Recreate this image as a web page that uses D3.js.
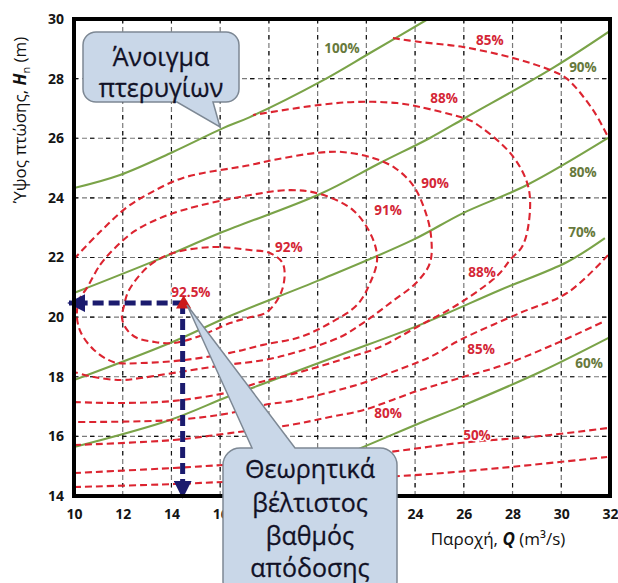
<!DOCTYPE html>
<html><head><meta charset="utf-8">
<script src="https://cdn.jsdelivr.net/npm/d3@7"></script>
<style>body{margin:0;background:#fff}</style>
</head><body><svg id="c" width="618" height="583"></svg>
<script>
// ---------- data (Q in m3/s, H in m) ----------
const xTicks = [10,12,14,16,18,20,22,24,26,28,30,32];
const yTicks = [14,16,18,20,22,24,26,28,30];

// guide-vane opening lines (green)
const vane100 = [[10,24.33],[11.89,24.77],[14.06,25.54],[16.12,26.34],[17.22,26.71],[20.10,27.89],[22.15,28.86],[24.53,30.0]];
const vane90  = [[10,20.81],[13.41,21.92],[15.99,22.82],[20.10,24.13],[22.56,25.17],[24.61,26.01],[26.05,26.68],[29.66,28.36],[32,29.60]];
const vane80  = [[10,17.89],[13.94,19.13],[16.40,20.04],[20.10,21.25],[23.91,22.59],[25.97,23.49],[28.59,24.43],[31.92,26.01]];
const vane70  = [[10,15.64],[13.94,16.55],[16.28,17.32],[17.63,17.72],[20.92,18.73],[24.20,19.74],[27.49,20.91],[30.24,21.85],[31.79,22.65]];
const vane60  = [[19.69,14.94],[21.86,15.64],[24.20,16.45],[25.84,16.99],[29.13,18.16],[32,19.33]];

// efficiency contours (red dashed)
const eff85a = [[23.09,29.36],[24.20,29.23],[25.97,29.06],[28.02,28.69],[29.54,28.29],[30.24,27.99],[31.30,26.95],[31.92,26.04]];
const eff85b = [[31.92,22.08],[30.24,20.81],[28.31,20.14],[25.84,19.23],[24.61,18.66],[22.97,18.13],[21.86,17.79],[19.15,17.22],[17.76,17.05],[16.40,16.78],[14.10,16.55],[10,16.48]];
const eff88  = [[10,17.15],[12.05,17.12],[14.10,17.19],[16.40,17.49],[17.51,17.79],[19.15,18.13],[20.92,18.56],[22.56,19.00],[24.08,19.67],[25.84,20.47],[27.40,21.41],[27.90,21.92],[28.43,22.42],[28.72,23.66],[28.59,24.53],[27.90,25.51],[26.38,26.55],[25.97,26.68],[24.20,27.05],[23.26,27.18],[21.62,27.22],[20.10,27.12],[17.35,26.78]];
const eff90  = [[10,21.95],[11.07,22.86],[12.18,23.69],[13.12,24.16],[14.47,24.67],[17.22,25.10],[18.17,25.27],[19.97,25.51],[21.00,25.54],[22.27,25.34],[23.18,25.00],[23.91,24.43],[24.37,23.66],[24.65,22.75],[24.61,21.82],[24.08,21.18],[22.97,20.47],[21.86,19.80],[20.92,19.33],[19.15,18.83],[17.80,18.56],[16.16,18.39],[14.10,18.13],[12.75,17.96],[11.93,17.89],[10.82,17.99],[10,18.16]];
const eff91  = [[10.53,20.98],[11.07,21.75],[11.68,22.32],[12.50,22.89],[13.53,23.32],[14.64,23.63],[16.81,24.03],[18.87,24.26],[20.10,24.13],[21.45,23.59],[22.23,22.69],[22.44,21.92],[22.15,21.14],[21.62,20.41],[20.51,19.80],[19.28,19.33],[17.76,19.07],[16.40,18.80],[14.51,18.56],[12.75,18.46],[11.64,18.49],[10.82,18.90],[10.29,19.47],[10.12,20.00],[10.21,20.57]];
const eff92  = [[12.26,20.91],[13.12,21.75],[14.06,22.15],[15.71,22.35],[17.22,22.25],[18.04,22.15],[18.58,21.78],[18.54,20.91],[17.92,20.17],[17.10,19.97],[16.40,19.80],[15.17,19.37],[14.10,19.13],[13.28,19.17],[12.59,19.30],[12.18,19.57],[11.97,19.97],[12.05,20.37]];
const eff80  = [[10,15.71],[14.10,15.88],[16.40,16.11],[18.87,16.38],[20.51,16.65],[21.86,16.88],[24.08,17.52],[25.84,17.96],[27.61,18.39],[29.66,19.07],[31.79,19.87]];
const eff50  = [[10,14.77],[14.10,14.94],[16.16,15.04],[19.28,15.17],[22.97,15.48],[25.84,15.78],[29.13,16.01],[31.92,16.28]];
const eff40  = [[10,14.30],[14.10,14.40],[16.16,14.47],[19.28,14.54],[23.38,14.67],[27.49,14.94],[31.88,15.31]];

const optimum = [14.5, 20.47];

const vaneLabels = [["100%",21.00,29.03],["90%",30.89,28.39],["80%",30.89,24.87],["70%",30.85,22.86],["60%",31.14,18.46]];
const effLabels  = [["85%",27.07,29.30],["88%",25.19,27.35],["90%",24.82,24.50],["91%",22.89,23.59],["92%",18.82,22.35],["92.5%",14.80,20.84],["88%",26.75,21.51],["85%",26.71,18.93],["80%",22.89,16.78],["50%",26.54,16.05]];

// ---------- drawing ----------
const svg = d3.select("#c");
const x = d3.scaleLinear().domain([10,32]).range([74,610]);
const y = d3.scaleLinear().domain([14,30]).range([496,19]);
const RED = "#dc2430", GREEN = "#7aa348", NAVY = "#1b1b6e";
const FONT = "'Open Sans', 'Noto Sans', sans-serif";
const BOX2 = {x:223, y:448, w:174, h:150};

// grid
const grid = svg.append("g");
function gridLines(cls, color, w, dash, off){
  grid.selectAll("line."+cls+"v").data(xTicks.slice(1,-1)).join("line")
    .attr("x1",d=>x(d)).attr("x2",d=>x(d)).attr("y1",y(30)).attr("y2",y(14))
    .attr("stroke",color).attr("stroke-width",w).attr("stroke-dasharray",dash).attr("stroke-dashoffset",off);
  grid.selectAll("line."+cls+"h").data(yTicks.slice(1,-1)).join("line")
    .attr("y1",d=>y(d)).attr("y2",d=>y(d)).attr("x1",x(10)).attr("x2",x(32))
    .attr("stroke",color).attr("stroke-width",w).attr("stroke-dasharray",dash).attr("stroke-dashoffset",off);
}
gridLines("g","#7a7a7a",1.2,"5,3",0);
gridLines("k","#111",1.1,"4,12",0);

svg.append("clipPath").attr("id","pc").append("rect")
  .attr("x",x(10)).attr("y",y(30)).attr("width",x(32)-x(10)).attr("height",y(14)-y(30));
const plot = svg.append("g").attr("clip-path","url(#pc)");

const smooth = d3.line().x(d=>x(d[0])).y(d=>y(d[1])).curve(d3.curveCatmullRom.alpha(0.5));
const closed = d3.line().x(d=>x(d[0])).y(d=>y(d[1])).curve(d3.curveCatmullRomClosed.alpha(0.5));

[vane100,vane90,vane80,vane70,vane60].forEach(v=>{
  plot.append("path").attr("d",smooth(v)).attr("fill","none").attr("stroke",GREEN).attr("stroke-width",2.1);
});
[eff85a,eff85b,eff88,eff90,eff80,eff50,eff40].forEach(c=>{
  plot.append("path").attr("d",smooth(c)).attr("fill","none").attr("stroke",RED).attr("stroke-width",2.1)
    .attr("stroke-dasharray","7,4");
});
[eff91,eff92].forEach(c=>{
  plot.append("path").attr("d",closed(c)).attr("fill","none").attr("stroke",RED).attr("stroke-width",2.1)
    .attr("stroke-dasharray","7,4");
});

// labels
svg.append("g").selectAll("text").data(vaneLabels).join("text")
  .attr("x",d=>x(d[1])).attr("y",d=>y(d[2])).attr("dy","0.35em").attr("text-anchor","middle")
  .attr("font-family",FONT).attr("font-weight","bold").attr("font-size",13.5)
  .attr("fill","#67793c").attr("stroke","#fff").attr("stroke-width",2.5).attr("paint-order","stroke")
  .text(d=>d[0]);
svg.append("g").selectAll("text").data(effLabels).join("text")
  .attr("x",d=>x(d[1])).attr("y",d=>y(d[2])).attr("dy","0.35em").attr("text-anchor","middle")
  .attr("font-family",FONT).attr("font-weight","bold").attr("font-size",13.5)
  .attr("fill","#d42636").attr("stroke","#fff").attr("stroke-width",2.5).attr("paint-order","stroke")
  .text(d=>d[0]);

// optimum arrows
const defs = svg.append("defs");
defs.append("marker").attr("id","ah").attr("viewBox","0 0 10 10").attr("refX",9).attr("refY",5)
  .attr("markerWidth",3.6).attr("markerHeight",3.6).attr("orient","auto").attr("markerUnits","strokeWidth")
  .append("path").attr("d","M0,0 L10,5 L0,10 Z").attr("fill",NAVY);
svg.append("line").attr("x1",x(optimum[0])).attr("y1",y(optimum[1])).attr("x2",x(10)-5).attr("y2",y(optimum[1]))
  .attr("stroke",NAVY).attr("stroke-width",5).attr("stroke-dasharray","11,5").attr("marker-end","url(#ah)");
svg.append("line").attr("x1",x(optimum[0])-1).attr("y1",y(optimum[1])).attr("x2",x(optimum[0])-1).attr("y2",y(14)+1)
  .attr("stroke",NAVY).attr("stroke-width",5).attr("stroke-dasharray","11,5").attr("marker-end","url(#ah)");
svg.append("path").attr("d",d3.symbol(d3.symbolTriangle,100)())
  .attr("transform",`translate(${x(optimum[0])},${y(optimum[1])+1})`).attr("fill","#cc1a1a");

// frame
svg.append("rect").attr("x",x(10)).attr("y",y(30)).attr("width",x(32)-x(10)).attr("height",y(14)-y(30))
  .attr("fill","none").attr("stroke","#000").attr("stroke-width",4);

// axes (tick labels hidden by the callout box are not drawn)
const hidden = d => x(d) > BOX2.x + 8 && x(d) < BOX2.x + BOX2.w;
const xa = svg.append("g").attr("transform",`translate(0,${y(14)})`)
  .call(d3.axisBottom(x).tickValues(xTicks).tickSize(0).tickPadding(13).tickFormat(d => hidden(d) ? "" : d3.format("d")(d)));
const ya = svg.append("g").attr("transform",`translate(${x(10)},0)`)
  .call(d3.axisLeft(y).tickValues(yTicks).tickSize(0).tickPadding(10).tickFormat(d3.format("d")));
[xa,ya].forEach(a=>{
  a.select(".domain").remove();
  a.selectAll("text").attr("font-family",FONT).attr("font-weight","bold").attr("font-size",14).attr("fill","#151515");
});

// axis titles
const yt = svg.append("text").attr("transform","translate(26,120) rotate(-90)").attr("text-anchor","middle")
  .attr("font-family",FONT).attr("font-size",17).attr("fill","#111");
yt.append("tspan").text("Ύψος πτώσης, ");
yt.append("tspan").attr("font-style","italic").attr("font-weight","bold").text("H");
yt.append("tspan").attr("font-size",11).attr("dy",4).text("n");
yt.append("tspan").attr("dy",-4).text(" (m)");

const xt = svg.append("text").attr("x",498).attr("y",545).attr("text-anchor","middle")
  .attr("font-family",FONT).attr("font-size",17).attr("fill","#111");
xt.append("tspan").text("Παροχή, ");
xt.append("tspan").attr("font-style","italic").attr("font-weight","bold").text("Q");
xt.append("tspan").text(" (m³/s)");

// callouts
function callout(bx,by,w,h,r,b1,b2,tx,ty,side){
  const p = d3.path();
  if(side==="top"){
    p.moveTo(bx+r,by); p.lineTo(b1,by); p.lineTo(tx,ty); p.lineTo(b2,by);
    p.lineTo(bx+w-r,by); p.arcTo(bx+w,by,bx+w,by+r,r);
    p.lineTo(bx+w,by+h-r); p.arcTo(bx+w,by+h,bx+w-r,by+h,r);
    p.lineTo(bx+r,by+h); p.arcTo(bx,by+h,bx,by+h-r,r);
    p.lineTo(bx,by+r); p.arcTo(bx,by,bx+r,by,r); p.closePath();
  } else {
    p.moveTo(bx+r,by); p.lineTo(bx+w-r,by); p.arcTo(bx+w,by,bx+w,by+r,r);
    p.lineTo(bx+w,by+h-r); p.arcTo(bx+w,by+h,bx+w-r,by+h,r);
    p.lineTo(b2,by+h); p.lineTo(tx,ty); p.lineTo(b1,by+h);
    p.lineTo(bx+r,by+h); p.arcTo(bx,by+h,bx,by+h-r,r);
    p.lineTo(bx,by+r); p.arcTo(bx,by,bx+r,by,r); p.closePath();
  }
  svg.append("path").attr("d",p.toString()).attr("fill","#c9d7e8").attr("stroke","#7d8894").attr("stroke-width",1.5);
}
callout(83,32,156,70,13,177,213,220,127,"bottom");
callout(BOX2.x,BOX2.y,BOX2.w,BOX2.h,17,252,295,187,305,"top");

function lines(cx,ys,txt,size){
  svg.append("g").selectAll("text").data(txt).join("text")
    .attr("x",cx).attr("y",(d,i)=>ys[i]).attr("dy","0.35em").attr("text-anchor","middle")
    .attr("font-family",FONT).attr("font-size",size).attr("fill","#111126")
    .attr("stroke","#111126").attr("stroke-width",0.3).text(d=>d);
}
lines(161,[57,88],["Άνοιγμα","πτερυγίων"],25);
lines(310,[469,503,536,568],["Θεωρητικά","βέλτιστος","βαθμός","απόδοσης"],25);
</script></body></html>
